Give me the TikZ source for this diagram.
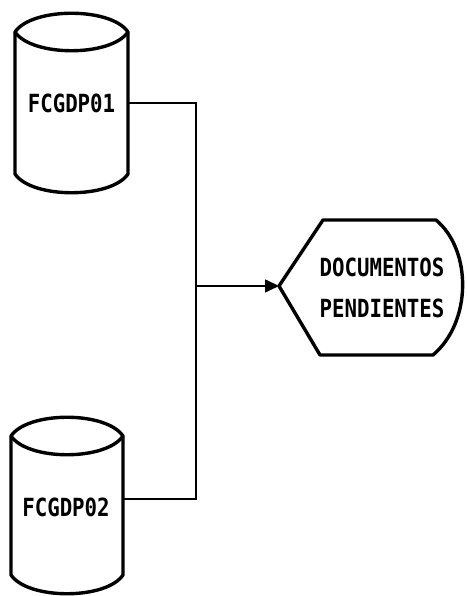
\documentclass[tikz,border=0pt]{standalone}
\usepackage{fontspec}
\usetikzlibrary{arrows.meta}
\newfontfamily\monofnt[FakeStretch=0.83]{DejaVu Sans Mono}
\tikzset{
  shapeline/.style={draw=black, line width=3.4pt, line join=round, line cap=round},
  conn/.style={draw=black, line width=1.6pt},
  lbl/.style={font=\monofnt\bfseries\fontsize{25}{41}\selectfont, inner sep=0pt, align=center},
}
\begin{document}
\begin{tikzpicture}[x=1pt,y=1pt]
\useasboundingbox[fill=white] (0,0) rectangle (466,596);
% cylinder 1
\draw[shapeline] (15,564) -- (15,422) .. controls (32,397) and (111,397) .. (128,422) -- (128,564);
\draw[shapeline] (15,564) .. controls (32,589) and (111,589) .. (128,564)
                          .. controls (111,539) and (32,539) .. cycle;
\node[lbl, minimum width=113pt] (c1) at (71.5,493) {FCGDP01};
% cylinder 2
\draw[shapeline] (11,160) -- (11,21) .. controls (28,-4) and (106,-4) .. (123,21) -- (123,160);
\draw[shapeline] (11,160) .. controls (28,185) and (106,185) .. (123,160)
                          .. controls (106,135) and (28,135) .. cycle;
\node[lbl] (c2) at (66,89) {FCGDP02};
\coordinate (c2e) at (123,97);
% display shape
\draw[shapeline] (279,310) -- (323,376) -- (436,376) .. controls (472,346) and (472,274) .. (433,241) -- (320,241) -- cycle;
\node[lbl] (h) at (382,308.5) {DOCUMENTOS\\PENDIENTES};
\coordinate (hl) at (279,310);
% connectors
\coordinate (j) at (196,310);
\draw[conn] (c1.east) -| (j) |- (c2e);
\draw[conn, -{Triangle[length=14pt,width=13pt]}] (j) -- (hl);
\end{tikzpicture}
\end{document}
